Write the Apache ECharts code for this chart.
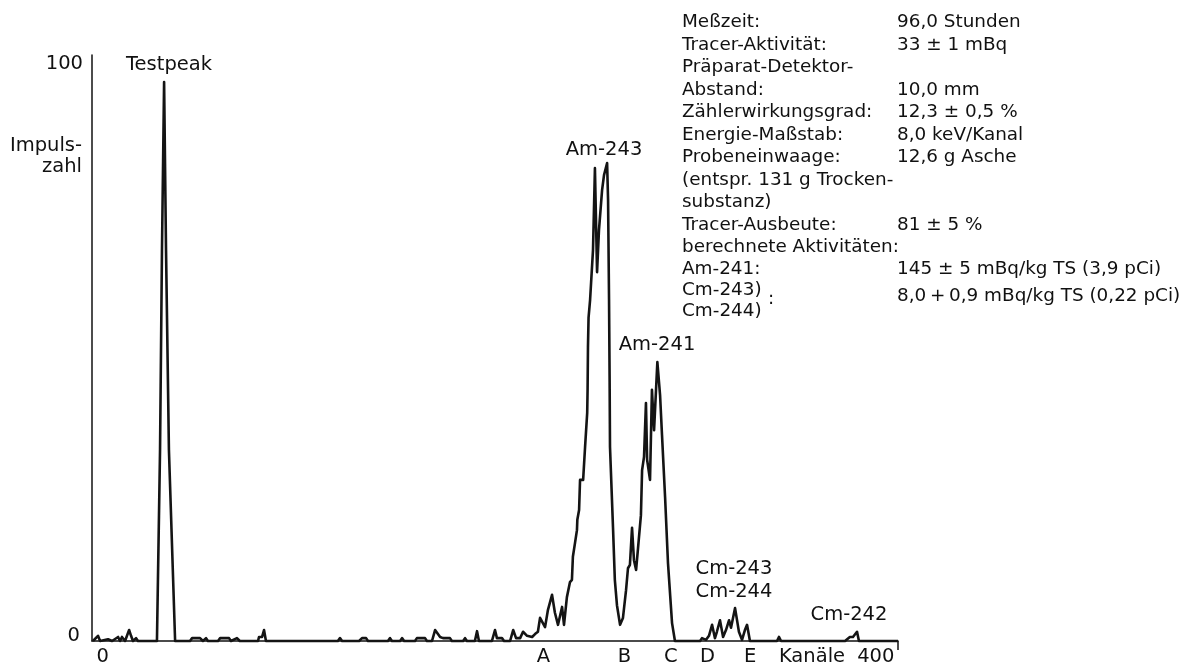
<!DOCTYPE html>
<html>
<head>
<meta charset="utf-8">
<script src="https://cdn.jsdelivr.net/npm/echarts@6/dist/echarts.min.js"></script>
<style>
  html, body { margin: 0; padding: 0; background: #ffffff; }
  #chart { width: 1182px; height: 663px; }
</style>
</head>
<body>
<div id="chart"></div>
<script>
// Channel numbers (Kanäle) of the read-off trace points
const channels = [-5,-2.4,-1.3,2.8,4.9,8,9,10,11.6,12.6,13.7,14.7,15.7,17.3,18.3,
  28.1,29.7,30.7,31.8,32.8,34.3,37.5,
  45.2,46.3,50.4,51.9,53.5,54.5,59.7,60.8,65.4,66.4,69.5,71,
  80.4,80.9,82.5,83.5,84.5,
  121.7,122.8,123.9,132.7,134.2,136.3,137.3,147.6,148.7,149.7,153.9,154.9,156,
  161.6,162.6,166.8,167.8,170.4,172,174.6,176.1,179.7,180.7,186.5,187.5,188.5,
  192.6,193.7,194.7,201.4,203,204,206.6,207.7,210.8,212.4,213.9,216,217.5,219.6,222.2,223.7,225.2,
  226.3,228.9,230.4,232.5,234,235.6,237.7,238.7,240.2,241.8,242.8,243.3,244.4,245.4,245.6,246.5,247,248.6,249.6,250.7,250.9,251.1,251.4,252.2,253.7,254.7,255.8,256.8,258.4,259.4,261,261.5,262,262.3,262.5,264.1,265,266.1,267.7,
  269.2,270.8,271.8,272.8,273.9,274.9,276,277,278.5,279.1,280.1,281.1,281.7,283.2,284.2,285.3,287,288.4,289.4,291,292.5,294.6,296.1,
  309.1,310.1,312.2,313.7,315.3,316.8,317.8,319.4,321,322.5,324.1,325.1,327.2,329.2,330.8,332.3,333.4,334.9,
  348.9,349.9,351,384.1,386.6,388.2,390.3,391.3,411.5];

// Impulszahl (counts) at those channels
const counts = [0,0.9,0,0.3,0,0.7,0,0.7,0,0.9,1.9,0.9,0,0.5,0,
  0,33.1,67.7,96.8,67.7,33.1,0,
  0,0.5,0.5,0,0.5,0,0,0.5,0.5,0,0.5,0,
  0,0.7,0.7,1.9,0,
  0,0.5,0,0,0.5,0.5,0,0,0.5,0,0,0.5,0,
  0,0.5,0.5,0,0,1.9,0.7,0.5,0.5,0,0,0.5,0,
  0,1.7,0,0,1.9,0.5,0.5,0,0,1.9,0.5,0.5,1.6,0.9,0.7,1.2,1.6,
  4,2.4,5.4,8,4.9,2.8,5.9,2.8,7.6,10.2,10.6,14.6,17,19.2,21,22.7,27.9,27.9,33.6,39.5,43.5,50.9,56,59.1,67.7,81.9,63.9,71.2,78.1,80.7,82.8,76.4,59.1,45.2,33.6,19.2,10.6,6.2,2.8,
  4,8.8,12.6,13.2,19.6,14,12.3,16.1,21.8,29.6,31.9,41.2,31.4,27.9,43.5,36.5,48.3,42.6,35.7,24.9,13.5,3.1,0,
  0,0.5,0.2,0.9,2.8,0.5,1.6,3.6,0.7,1.9,3.6,2.3,5.7,1.6,0.2,1.9,2.8,0,
  0,0.7,0,0,0.7,0.7,1.6,0,0];

// x-axis tick labels
const xTickValues = [0, 228, 270, 294, 313, 335, 367, 400];
const xTickNames  = ['0', 'A', 'B', 'C', 'D', 'E', 'Kanäle', '400'];
// y-axis tick labels
const yTickValues = [0, 100];
const yTickNames  = ['0', '100'];

// Peak annotations
const peakLabels = ['Testpeak', 'Am-243', 'Am-241', 'Cm-243', 'Cm-244', 'Cm-242'];

// Info block
const infoLeft = ['Meßzeit:', 'Tracer-Aktivität:', 'Präparat-Detektor-', 'Abstand:', 'Zählerwirkungsgrad:',
  'Energie-Maßstab:', 'Probeneinwaage:', '(entspr. 131 g Trocken-', 'substanz)', 'Tracer-Ausbeute:',
  'berechnete Aktivitäten:', 'Am-241:'];
const infoRight = ['96,0 Stunden', '33 ± 1 mBq', '', '10,0 mm', '12,3 ± 0,5 %', '8,0 keV/Kanal',
  '12,6 g Asche', '', '', '81 ± 5 %', '', '145 ± 5 mBq/kg TS (3,9 pCi)'];
const cmLines = ['Cm-243)', 'Cm-244)'];
const cmValue = '8,0\u2009+\u20090,9 mBq/kg TS (0,22 pCi)';

const FONT = '"DejaVu Sans", "Liberation Sans", sans-serif';
const INK = '#111111';

const data = channels.map((c, i) => [c, counts[i]]);

function txt(text, x, y, size, align, valign) {
  return {
    type: 'text', silent: true,
    style: {
      text: text, x: x, y: y, fill: INK,
      font: size + 'px ' + FONT,
      align: align || 'center', verticalAlign: valign || 'middle'
    }
  };
}

const graphics = [];
graphics.push(txt(peakLabels[0], 169, 65, 19.5));
graphics.push(txt('Impuls-', 82, 146, 19.5, 'right'));
graphics.push(txt('zahl', 82, 167, 19.5, 'right'));
graphics.push(txt(peakLabels[1], 604, 150, 19.5));
graphics.push(txt(peakLabels[2], 657, 345, 19.5));
graphics.push(txt(peakLabels[3], 734, 569, 19.5));
graphics.push(txt(peakLabels[4], 734, 592, 19.5));
graphics.push(txt(peakLabels[5], 849, 615, 19.5));

const lineY = [22.7, 45, 67.5, 90, 112.5, 135, 157, 180, 202, 225, 247, 269];
infoLeft.forEach((t, i) => {
  graphics.push(txt(t, 682, lineY[i], 18.4, 'left'));
  if (infoRight[i]) graphics.push(txt(infoRight[i], 897, lineY[i], 18.4, 'left'));
});
graphics.push(txt(cmLines[0], 682, 290, 18.4, 'left'));
graphics.push(txt(cmLines[1], 682, 311, 18.4, 'left'));
graphics.push(txt(':', 768, 299, 18.4, 'left'));
graphics.push(txt(cmValue, 897, 296, 18.4, 'left'));

const chart = echarts.init(document.getElementById('chart'), null, { renderer: 'canvas' });
chart.setOption({
  animation: false,
  backgroundColor: '#ffffff',
  grid: { left: 92, right: 284, top: 55, bottom: 22, containLabel: false, outerBoundsMode: 'none' },
  xAxis: {
    type: 'value', min: -5.5, max: 411.5,
    splitLine: { show: false },
    axisLine: { show: true, onZero: false, lineStyle: { color: INK, width: 1.5 } },
    axisTick: { show: true, customValues: [411.5], length: 9, lineStyle: { color: INK, width: 1.5 } },
    axisLabel: {
      customValues: xTickValues,
      formatter: function (v) { const i = xTickValues.indexOf(v); return i >= 0 ? xTickNames[i] : ''; },
      color: INK, fontFamily: FONT, fontSize: 19.5, margin: 6
    }
  },
  yAxis: {
    type: 'value', min: 0, max: 101.5,
    splitLine: { show: false },
    axisLine: { show: true, onZero: false, lineStyle: { color: INK, width: 1.5 } },
    axisTick: { show: false },
    axisLabel: {
      customValues: yTickValues,
      formatter: function (v) { const i = yTickValues.indexOf(v); return i === 0 ? '{z|' + yTickNames[0] + '}' : '{h|' + yTickNames[i] + '}'; },
      color: INK, fontFamily: FONT, fontSize: 19.5, margin: 9,
      rich: {
        z: { padding: [0, 3, 10, 0], fontFamily: FONT, fontSize: 19.5, color: INK },
        h: { fontFamily: FONT, fontSize: 19.5, color: INK }
      }
    }
  },
  series: [{
    type: 'line',
    data: data,
    showSymbol: false,
    smooth: false,
    lineStyle: { color: '#141414', width: 2.6, join: 'round' },
    clip: false
  }],
  graphic: graphics
});
</script>
</body>
</html>
